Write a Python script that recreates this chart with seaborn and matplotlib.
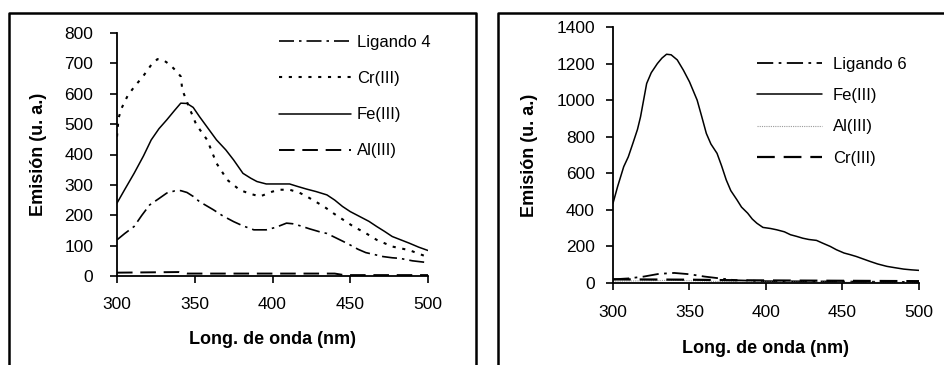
import matplotlib
matplotlib.use("Agg")
import matplotlib.pyplot as plt
from matplotlib.lines import Line2D
import seaborn as sns
import pandas as pd

sns.set_theme(style="white")
plt.rcParams['font.family'] = ['Liberation Sans', 'DejaVu Sans']

# ---------------- Data: left panel (Ligando 4) ----------------
wl_cr4 = [300, 301, 303, 307, 311, 317, 322, 326, 330, 334, 338, 341, 342, 346, 351, 358, 364,
          371, 379, 386, 392, 400, 405, 411, 417, 422, 433, 439, 452, 460, 467, 477, 488, 500]
em_cr4 = [459, 520, 553, 595, 622, 659, 695, 714, 710, 696, 675, 657, 613, 560, 498, 448, 371,
          316, 283, 270, 262, 278, 284, 284, 275, 262, 229, 207, 163, 141, 119, 97, 85, 62]

wl_fe4 = [300, 305, 311, 317, 322, 327, 332, 337, 341, 345, 349, 353, 358, 364, 370, 375, 381,
          386, 390, 396, 404, 411, 416, 422, 428, 435, 440, 445, 450, 456, 462, 467, 472, 477,
          483, 488, 494, 500]
em_fe4 = [240, 285, 338, 395, 448, 485, 514, 545, 569, 568, 555, 525, 490, 448, 415, 382, 338,
          322, 311, 303, 303, 303, 295, 286, 278, 267, 250, 229, 212, 196, 180, 163, 147, 130,
          118, 108, 95, 84]

wl_lig4 = [300, 305, 311, 316, 321, 327, 332, 337, 341, 345, 349, 353, 358, 362, 368, 375, 381,
           388, 396, 402, 409, 413, 418, 424, 430, 435, 439, 445, 450, 455, 460, 466, 471, 477,
           482, 490, 500]
em_lig4 = [119, 140, 163, 200, 234, 255, 273, 280, 281, 275, 262, 245, 230, 218, 198, 179, 165,
           152, 152, 160, 174, 172, 165, 155, 146, 140, 130, 115, 102, 88, 77, 70, 64, 60,
           58, 50, 44]

wl_al4 = [300, 340, 345, 440, 446, 500]
em_al4 = [11, 13, 8, 8, 3, 3]

# ---------------- Data: right panel (Ligando 6) ----------------
wl_fe6 = [300, 303, 307, 310, 313, 316, 318, 320, 322, 325, 329, 332, 335, 338, 342, 346, 350,
          355, 358, 361, 364, 368, 371, 374, 377, 381, 384, 388, 391, 394, 398, 403, 407, 412,
          416, 420, 424, 428, 433, 437, 442, 446, 451, 455, 459, 464, 468, 473, 479, 484, 490,
          495, 500]
em_fe6 = [436, 527, 636, 690, 764, 840, 909, 1000, 1091, 1150, 1200, 1230, 1251, 1248, 1220,
          1164, 1100, 1000, 910, 818, 760, 709, 640, 564, 505, 455, 415, 382, 350, 327, 304, 298,
          291, 280, 264, 255, 245, 238, 233, 218, 200, 182, 164, 155, 145, 130, 118, 104, 91,
          84, 76, 72, 69]

wl_lig6 = [300, 310, 320, 330, 340, 350, 360, 370, 380, 400, 450, 500]
em_lig6 = [20, 25, 35, 50, 55, 48, 35, 25, 15, 10, 8, 5]

wl_al6 = [300, 320, 340, 360, 380, 400, 450, 500]
em_al6 = [10, 12, 15, 10, 6, 5, 4, 3]

wl_cr6 = [300, 350, 380, 400, 450, 500]
em_cr6 = [20, 18, 15, 14, 12, 10]

xticks = [300, 350, 400, 450, 500]
yticks_left = [0, 100, 200, 300, 400, 500, 600, 700, 800]
yticks_right = [0, 200, 400, 600, 800, 1000, 1200, 1400]

# ---------------- Figure ----------------
W, H = 945, 365
fig = plt.figure(figsize=(W / 100, H / 100), dpi=100)
fig.patch.set_facecolor("white")


def frame_lines(x0, x1, ytop, right=True):
    yt = 1 - ytop / H
    xs = [x0 / W, x0 / W, x1 / W] + ([x1 / W] if right else [])
    ys = [0, yt, yt] + ([0] if right else [])
    fig.lines.append(Line2D(xs, ys, transform=fig.transFigure, color="black", linewidth=1.8))


frame_lines(9.5, 476.5, 12.5, right=True)
frame_lines(497.5, 960, 12.5, right=False)

ax1 = fig.add_axes([117 / W, 1 - 276 / H, 311 / W, 243 / H])
ax2 = fig.add_axes([613 / W, 1 - 283 / H, 306 / W, 256 / H])

dashdot = (0, (9, 3, 1.5, 3))
dotted = (0, (1.5, 3.2))
dashed = (0, (8, 4))

df1 = {
    "Ligando 4": (wl_lig4, em_lig4, dict(color="black", linestyle=dashdot, linewidth=1.2)),
    "Cr(III)": (wl_cr4, em_cr4, dict(color="black", linestyle=dotted, linewidth=1.5)),
    "Fe(III)": (wl_fe4, em_fe4, dict(color="black", linestyle="-", linewidth=1.1)),
    "Al(III)": (wl_al4, em_al4, dict(color="black", linestyle=dashed, linewidth=1.4)),
}
df2 = {
    "Ligando 6": (wl_lig6, em_lig6, dict(color="black", linestyle=dashdot, linewidth=1.3)),
    "Fe(III)": (wl_fe6, em_fe6, dict(color="black", linestyle="-", linewidth=1.1)),
    "Al(III)": (wl_al6, em_al6, dict(color="#9a9a9a", linestyle=(0, (1, 1)), linewidth=0.8)),
    "Cr(III)": (wl_cr6, em_cr6, dict(color="black", linestyle=dashed, linewidth=1.6)),
}

for ax, series in ((ax1, df1), (ax2, df2)):
    for name, (xs, ys, kw) in series.items():
        d = pd.DataFrame({"x": xs, "y": ys})
        sns.lineplot(data=d, x="x", y="y", ax=ax, label=name, **kw)

ax1.set_xlim(300, 500)
ax1.set_ylim(0, 800)
ax1.set_yticks(yticks_left)
ax2.set_xlim(300, 500)
ax2.set_ylim(0, 1400)
ax2.set_yticks(yticks_right)

for ax in (ax1, ax2):
    ax.set_xticks(xticks)
    ax.set_facecolor("white")
    for s in ("top", "right"):
        ax.spines[s].set_visible(False)
    for s in ("left", "bottom"):
        ax.spines[s].set_color("black")
        ax.spines[s].set_linewidth(1.3)
    ax.tick_params(axis="both", direction="out", length=5, width=1.2, color="black",
                   labelsize=12.5, labelcolor="black", bottom=True, left=True)
    ax.set_xlabel("Long. de onda (nm)", fontsize=13, fontweight="bold", color="black")
    ax.set_ylabel("Emisión (u. a.)", fontsize=13, fontweight="bold", color="black")
    ax.grid(False)

ax1.tick_params(axis="y", pad=12)
ax1.tick_params(axis="x", pad=10)
ax2.tick_params(axis="y", pad=8)
ax2.tick_params(axis="x", pad=11)

ax1.xaxis.set_label_coords(0.5, -0.226)
ax1.yaxis.set_label_coords(-0.225, 0.5)
ax2.xaxis.set_label_coords(0.5, -0.223)
ax2.yaxis.set_label_coords(-0.245, 0.5)

leg1 = ax1.legend(loc="upper left", bbox_to_anchor=((279 - 117) / 311, (276 - 35) / 243),
                  frameon=False, fontsize=12, handlelength=4.3, handletextpad=0.36,
                  labelspacing=1.27, borderaxespad=0, borderpad=0)
leg2 = ax2.legend(loc="upper left", bbox_to_anchor=((757 - 613) / 306, (283 - 57) / 256),
                  frameon=False, fontsize=12, handlelength=3.9, handletextpad=0.66,
                  labelspacing=0.97, borderaxespad=0, borderpad=0)
for leg in (leg1, leg2):
    for t in leg.get_texts():
        t.set_color("black")

fig.savefig("out.png", dpi=100, facecolor="white")
